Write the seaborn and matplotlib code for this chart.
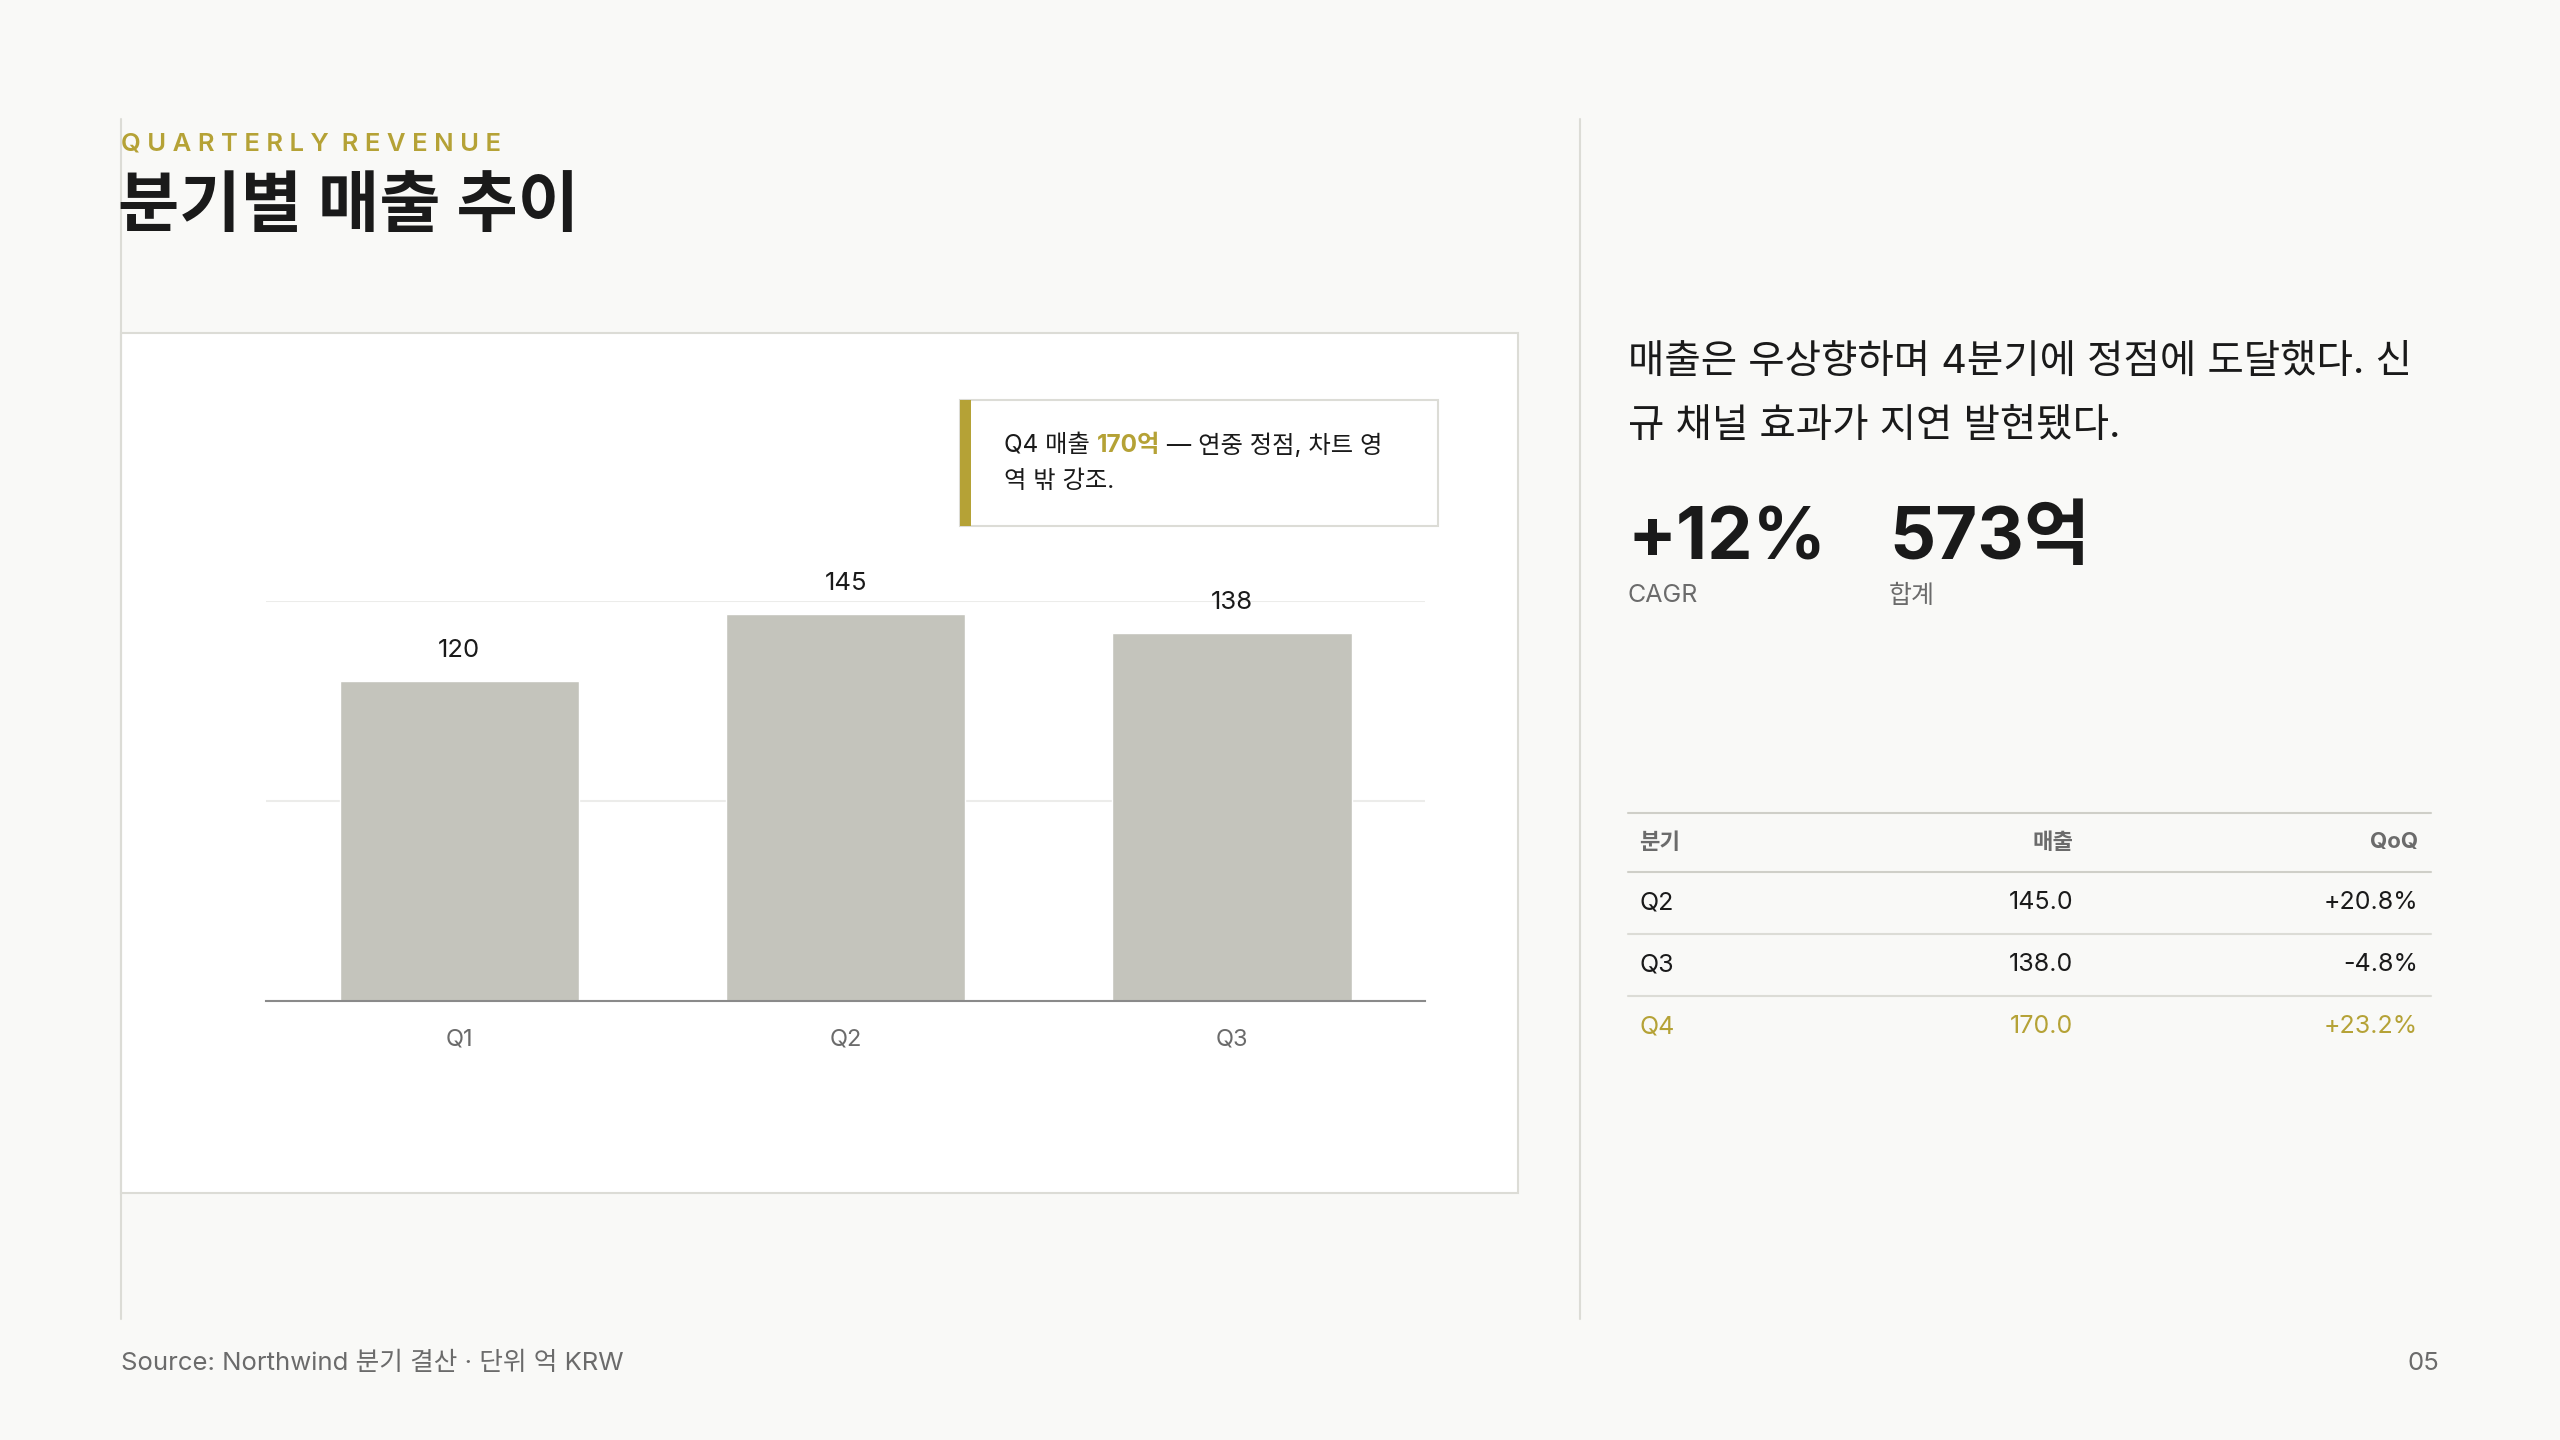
import matplotlib
matplotlib.use('Agg')
import matplotlib.pyplot as plt
from matplotlib.patches import Rectangle
import seaborn as sns
import pandas as pd

sns.set_theme(style='white')
plt.rcParams['font.family'] = ['Inter', 'Noto Sans CJK KR', 'DejaVu Sans']

# data
quarters = ['Q1', 'Q2', 'Q3']
revenue = [120, 145, 138]
y_ticks = [0, 75, 150]
table_quarters = ['Q2', 'Q3', 'Q4']
table_revenue = [145.0, 138.0, 170.0]
table_qoq = ['+20.8%', '-4.8%', '+23.2%']

BG = '#f9f9f7'
GOLD = '#b5a236'
BAR = '#c4c4bc'
GRAY = '#6b6b6b'
LINE = '#dcdcd6'
INK = '#1a1a1a'

W, H = 1568, 882
fx = lambda x: x / W
fy = lambda y: 1 - y / H

fig = plt.figure(figsize=(25.6, 14.4), dpi=100, facecolor=BG)

def hline(x0, x1, y, color=LINE, lw=1.5):
    fig.add_artist(plt.Line2D([fx(x0), fx(x1)], [fy(y), fy(y)], color=color, lw=lw,
                              transform=fig.transFigure))

def vline(x, y0, y1, color=LINE, lw=1.5):
    fig.add_artist(plt.Line2D([fx(x), fx(x)], [fy(y0), fy(y1)], color=color, lw=lw,
                              transform=fig.transFigure))

vline(74, 73, 808)
vline(968, 73, 808)

# header
fig.text(fx(74), fy(88), 'Q U A R T E R L Y  R E V E N U E', color=GOLD, fontsize=18.5,
         va='center', ha='left', fontweight='semibold')
fig.text(fx(72), fy(128), '분기별 매출 추이', color=INK, fontsize=48, fontweight='bold',
         va='center', ha='left')

# chart panel (behind the axes)
fig.add_artist(Rectangle((fx(74), fy(731)), fx(930) - fx(74), fy(204) - fy(731),
                         transform=fig.transFigure, facecolor='white', edgecolor=LINE, lw=1.5,
                         zorder=-5))

ax = fig.add_axes([fx(163), fy(613), fx(873) - fx(163), fy(368) - fy(613)])
ax.patch.set_alpha(0)
df = pd.DataFrame({'quarter': quarters, 'revenue': revenue})
sns.barplot(data=df, x='quarter', y='revenue', color=BAR, width=0.62, saturation=1, ax=ax)
ax.set_ylim(0, 150)
ax.set_yticks(y_ticks)
ax.yaxis.grid(True, color='#ececea', lw=1.5)
ax.set_axisbelow(True)
ax.tick_params(axis='y', left=False, labelleft=False)
ax.tick_params(axis='x', bottom=False, labelsize=17, labelcolor=GRAY, pad=14)
ax.set_xlabel('')
ax.set_ylabel('')
for s in ['top', 'left', 'right']:
    ax.spines[s].set_visible(False)
ax.spines['bottom'].set_color('#8a8a8a')
ax.spines['bottom'].set_linewidth(1.5)
for i, v in enumerate(revenue):
    ax.annotate(f'{v}', (i, v), xytext=(0, 22), textcoords='offset points', ha='center',
                va='center', fontsize=18.5, color=INK, annotation_clip=False)

# annotation box
fig.add_artist(Rectangle((fx(588), fy(322)), fx(881) - fx(588), fy(245) - fy(322),
                         transform=fig.transFigure, facecolor='white', edgecolor=LINE, lw=1.5))
fig.add_artist(Rectangle((fx(588), fy(322)), fx(595) - fx(588), fy(245) - fy(322),
                         transform=fig.transFigure, facecolor=GOLD, edgecolor='none'))
t = fig.text(fx(615), fy(273), 'Q4 매출 ', fontsize=17.5, color=INK, va='center', ha='left')
t2 = fig.text(0, 0, '170억', fontsize=17.5, color=GOLD, fontweight='bold', va='center', ha='left')
fig.canvas.draw()
bb = t.get_window_extent()
t2.set_position((bb.x1 / fig.bbox.width, fy(273)))
bb2 = t2.get_window_extent()
fig.text(bb2.x1 / fig.bbox.width, fy(273), ' — 연중 정점, 차트 영', fontsize=17.5, color=INK,
         va='center', ha='left')
fig.text(fx(615), fy(295), '역 밖 강조.', fontsize=17.5, color=INK, va='center', ha='left')

# right column
fig.text(fx(997), fy(222), '매출은 우상향하며 4분기에 정점에 도달했다. 신', fontsize=28.5, color=INK,
         va='center', ha='left')
fig.text(fx(997), fy(261), '규 채널 효과가 지연 발현됐다.', fontsize=28.5, color=INK,
         va='center', ha='left')
fig.text(fx(997), fy(331), '+12%', fontsize=52, fontweight='bold', color=INK, va='center', ha='left')
fig.text(fx(1157), fy(331), '573억', fontsize=52, fontweight='bold', color=INK, va='center', ha='left')
fig.text(fx(997), fy(365), 'CAGR', fontsize=18, color=GRAY, va='center', ha='left')
fig.text(fx(1157), fy(365), '합계', fontsize=18, color=GRAY, va='center', ha='left')

# table
hline(997, 1489, 498, color='#cfcfc8')
fig.text(fx(1004), fy(516), '분기', fontsize=16, color=GRAY, fontweight='bold', va='center')
fig.text(fx(1270), fy(516), '매출', fontsize=16, color=GRAY, fontweight='bold', va='center', ha='right')
fig.text(fx(1481), fy(516), 'QoQ', fontsize=16, color=GRAY, fontweight='bold', va='center', ha='right')
hline(997, 1489, 534, color='#cfcfc8')
for i, (q, r, g) in enumerate(zip(table_quarters, table_revenue, table_qoq)):
    y = 553 + 38 * i
    c = GOLD if q == 'Q4' else INK
    fig.text(fx(1004), fy(y), q, fontsize=18, color=c, va='center')
    fig.text(fx(1270), fy(y), f'{r:.1f}', fontsize=18, color=c, va='center', ha='right')
    fig.text(fx(1481), fy(y), g, fontsize=18, color=c, va='center', ha='right')
    if i < 2:
        hline(997, 1489, y + 19)

# footer
fig.text(fx(74), fy(835), 'Source: Northwind 분기 결산 · 단위 억 KRW', fontsize=18.5, color=GRAY,
         va='center', ha='left')
fig.text(fx(1494), fy(835), '05', fontsize=18.5, color=GRAY, va='center', ha='right')

fig.savefig('out.png', dpi=100, facecolor=BG)
